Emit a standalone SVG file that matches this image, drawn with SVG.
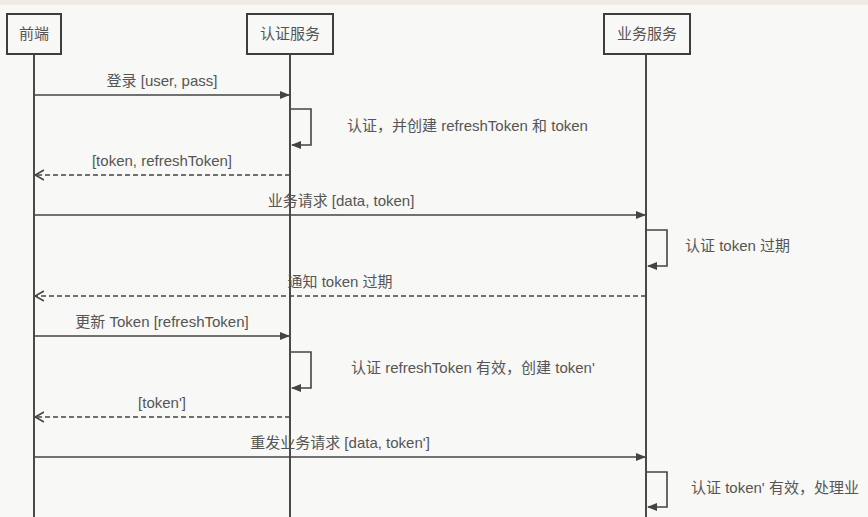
<svg xmlns="http://www.w3.org/2000/svg" width="868" height="517" viewBox="0 0 868 517">
<style>
.bg{fill:#f8f8f6}
.box{fill:#f8f8f6;stroke:#3e3e3e;stroke-width:2}
.life{stroke:#4a4a4a;stroke-width:2;fill:none}
.msg{stroke:#444;stroke-width:1.6;fill:none}
.dash{stroke:#444;stroke-width:1.6;fill:none;stroke-dasharray:5 3}
text{font-family:"Liberation Sans","Noto Sans CJK SC",sans-serif;font-size:15px;fill:#555}
.c{text-anchor:middle}
</style>
<defs>
<marker id="fill" markerWidth="10" markerHeight="8" refX="9" refY="4" orient="auto" markerUnits="userSpaceOnUse">
<path d="M0,0 L10,4 L0,8 Z" fill="#444"/>
</marker>
<marker id="open" markerWidth="10" markerHeight="12" refX="9" refY="6" orient="auto" markerUnits="userSpaceOnUse">
<path d="M0,1 L9,6 L0,11" fill="none" stroke="#444" stroke-width="1.6"/>
</marker>
</defs>
<rect class="bg" x="0" y="0" width="868" height="517"/>
<rect x="0" y="0" width="868" height="5" fill="#f1ebe6"/>
<g id="lifelines">
<line class="life" x1="34" y1="54" x2="34" y2="517"/>
<line class="life" x1="290" y1="54" x2="290" y2="517"/>
<line class="life" x1="646" y1="54" x2="646" y2="517"/>
</g>
<g id="node-frontend">
<rect class="box" x="7" y="14" width="54" height="40"/>
<text class="c" x="34" y="39">前端</text>
</g>
<g id="node-auth">
<rect class="box" x="247" y="14" width="86" height="40"/>
<text class="c" x="290" y="39">认证服务</text>
</g>
<g id="node-biz">
<rect class="box" x="604" y="14" width="86" height="40"/>
<text class="c" x="647" y="39">业务服务</text>
</g>
<g id="connectors">
<line class="msg" x1="34" y1="95" x2="289" y2="95" marker-end="url(#fill)"/>
<path class="msg" d="M291,109 H311 V145 H292" marker-end="url(#fill)"/>
<line class="dash" x1="290" y1="175" x2="35" y2="175" marker-end="url(#open)"/>
<line class="msg" x1="34" y1="215" x2="645" y2="215" marker-end="url(#fill)"/>
<path class="msg" d="M647,230 H667 V266 H648" marker-end="url(#fill)"/>
<line class="dash" x1="646" y1="296" x2="35" y2="296" marker-end="url(#open)"/>
<line class="msg" x1="34" y1="336" x2="289" y2="336" marker-end="url(#fill)"/>
<path class="msg" d="M291,352 H311 V388 H292" marker-end="url(#fill)"/>
<line class="dash" x1="290" y1="417" x2="35" y2="417" marker-end="url(#open)"/>
<line class="msg" x1="34" y1="457" x2="645" y2="457" marker-end="url(#fill)"/>
<path class="msg" d="M647,472 H667 V507 H648" marker-end="url(#fill)"/>
</g>
<g id="labels">
<text class="c" x="162" y="86">登录 [user, pass]</text>
<text x="347" y="131">认证，并创建 refreshToken 和 token</text>
<text class="c" x="162" y="166">[token, refreshToken]</text>
<text class="c" x="341" y="206">业务请求 [data, token]</text>
<text x="685" y="251">认证 token 过期</text>
<text class="c" x="340" y="287">通知 token 过期</text>
<text class="c" x="162" y="327">更新 Token [refreshToken]</text>
<text x="351" y="373">认证 refreshToken 有效，创建 token'</text>
<text class="c" x="162" y="408">[token']</text>
<text class="c" x="340" y="448">重发业务请求 [data, token']</text>
<text x="691" y="493">认证 token' 有效，处理业</text>
</g>
</svg>
